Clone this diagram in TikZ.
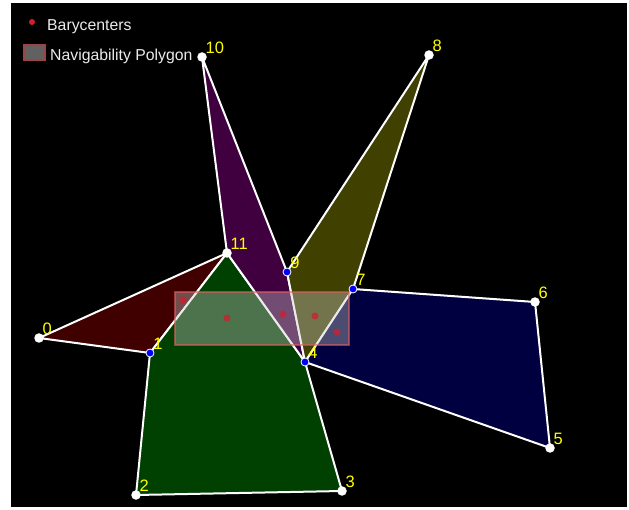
\documentclass[tikz,border=0pt]{standalone}
\usepackage{fontspec}
\setmainfont{Liberation Sans}
\usepackage{xcolor}
\usepackage{tikz}
\usetikzlibrary{positioning}
\definecolor{polyred}{RGB}{64,0,0}
\definecolor{polygreen}{RGB}{0,64,0}
\definecolor{polypurple}{RGB}{64,0,64}
\definecolor{polyolive}{RGB}{64,64,0}
\definecolor{polynavy}{RGB}{0,0,64}
\definecolor{navfill}{RGB}{200,200,200}
\definecolor{navedge}{RGB}{225,95,95}
\definecolor{barycol}{RGB}{210,30,45}
\definecolor{numcol}{RGB}{255,255,0}
\definecolor{legtext}{RGB}{235,235,235}
\tikzstyle{edge} = [draw=white, line width=2pt, line join=round]
\tikzstyle{wdot} = [circle, fill=white, inner sep=0pt, minimum size=9.5pt]
\tikzstyle{bdot} = [circle, fill=blue, draw=white, line width=0.8pt,
  inner sep=0pt, minimum size=8pt]
\tikzstyle{numlbl} = [text=numcol, inner sep=0pt,
  font=\fontsize{16.5}{18}\selectfont]

\begin{document}
\begin{tikzpicture}[x=1pt, y=-1pt,
  bary/.style={circle, fill=barycol, fill opacity=0.75, inner sep=0pt,
    minimum size=7pt},
  navpoly/.style={fill=navfill, fill opacity=0.38, draw=navedge,
    draw opacity=0.6, line width=2.5pt},
  legend/.style={text=legtext, inner sep=0pt, anchor=base west,
    font=\fontsize{15.8}{18}\selectfont}]

\useasboundingbox (0,0) rectangle (629,510);
\fill[white] (0,0) rectangle (629,510);
\fill[black] (11,3) rectangle (627,507);

\coordinate (p0) at (39,338);
\coordinate (p1) at (150,353);
\coordinate (p2) at (136,495);
\coordinate (p3) at (342,491);
\coordinate (p4) at (305,362);
\coordinate (p5) at (550,448);
\coordinate (p6) at (535,302);
\coordinate (p7) at (353,289);
\coordinate (p8) at (429,55);
\coordinate (p9) at (287,272);
\coordinate (p10) at (202,57);
\coordinate (p11) at (227,253);

\draw[edge, fill=polyred] (p0) -- (p11) -- (p1) -- cycle;
\draw[edge, fill=polygreen] (p11) -- (p1) -- (p2) -- (p3) -- (p4) -- cycle;
\draw[edge, fill=polypurple] (p10) -- (p9) -- (p4) -- (p11) -- cycle;
\draw[edge, fill=polyolive] (p8) -- (p7) -- (p4) -- (p9) -- cycle;
\draw[edge, fill=polynavy] (p7) -- (p6) -- (p5) -- (p4) -- cycle;

\draw[navpoly] (175,292) rectangle (349,345);

\node (b0) [bary] at (183,300) {};
\node (b1) [bary] at (227,318) {};
\node (b2) [bary] at (283,314) {};
\node (b3) [bary] at (315,316) {};
\node (b4) [bary] at (337,332) {};

\node (v0) [wdot, label={[numlbl]45:0}] at (p0) {};
\node (v1) [bdot, label={[numlbl]45:1}] at (p1) {};
\node (v2) [wdot, label={[numlbl]45:2}] at (p2) {};
\node (v3) [wdot, label={[numlbl]45:3}] at (p3) {};
\node (v4) [bdot, label={[numlbl]45:4}] at (p4) {};
\node (v5) [wdot, label={[numlbl]45:5}] at (p5) {};
\node (v6) [wdot, label={[numlbl]45:6}] at (p6) {};
\node (v7) [bdot, label={[numlbl]45:7}] at (p7) {};
\node (v8) [wdot, label={[numlbl]45:8}] at (p8) {};
\node (v9) [bdot, label={[numlbl]45:9}] at (p9) {};
\node (v10) [wdot, label={[numlbl]45:10}] at (p10) {};
\node (v11) [wdot, label={[numlbl]45:11}] at (p11) {};

\node (legdot) [bary, minimum size=6pt, fill opacity=1] at (32,22) {};
\node (legbary) [legend] at (47,31) {Barycenters};
\filldraw[fill=black!62, draw=navedge!70!black, line width=1.5pt]
  (24,45) rectangle (45,60);
\node (legnav) [legend] at (50,60.5) {Navigability Polygon};

\end{tikzpicture}
\end{document}
